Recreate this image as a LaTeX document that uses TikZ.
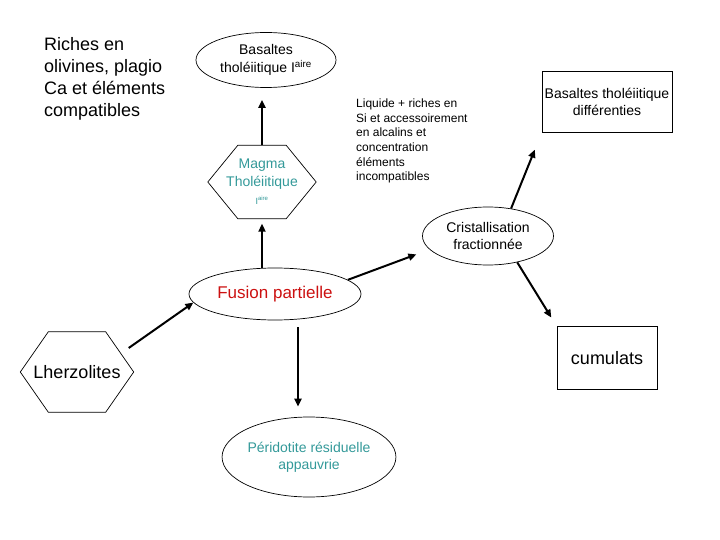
\documentclass[tikz,border=0pt]{standalone}
\usepackage{fontspec}
\setmainfont{Liberation Sans}
\usetikzlibrary{arrows.meta,shapes.geometric}
\definecolor{tealtxt}{RGB}{51,153,153}
\definecolor{redtxt}{RGB}{204,17,17}
% hexagone pointu a gauche et a droite autour d'un noeud
\newcommand{\hexagone}[2]{\draw[line width=0.7pt] (#1.west) -- ([xshift=#2]#1.north west) -- ([xshift=-#2]#1.north east) -- (#1.east) -- ([xshift=-#2]#1.south east) -- ([xshift=#2]#1.south west) -- cycle;}

\begin{document}
\begin{tikzpicture}[x=1pt,y=-1pt,
    ovale/.style={draw,ellipse,inner sep=0pt,line width=0.7pt,align=center},
    boite/.style={draw,rectangle,inner sep=0pt,line width=0.9pt,align=center},
    hexa/.style={rectangle,inner sep=0pt,align=center},
    fleche/.style={line width=2pt,-{Triangle[length=8pt,width=7pt]}}]
    \useasboundingbox (0,0) rectangle (720,540);
    % textes libres
    \node[anchor=west,align=left,inner sep=0pt,font=\fontsize{18}{22}\selectfont] (riches) at (44,79) {Riches en\\olivines, plagio\\Ca et éléments\\compatibles};
    \node[anchor=west,align=left,inner sep=0pt,font=\fontsize{12}{14.6}\selectfont] (liquide) at (356,141) {Liquide + riches en\\Si et accessoirement\\en alcalins et\\concentration\\éléments\\incompatibles};
    % formes
    \node[ovale,minimum width=140pt,minimum height=55pt,font=\fontsize{14}{18}\selectfont] (basI) at (266,60) {Basaltes\\tholéiitique I\textsuperscript{aire}};
    \node[hexa,minimum width=108pt,minimum height=73pt,text=tealtxt,font=\fontsize{14}{18}\selectfont] (magma) at (262,182) {Magma\\Tholéiitique\\{\fontsize{9}{9}\selectfont I\textsuperscript{aire}}};
    \hexagone{magma}{30pt}
    \node[boite,minimum width=130pt,minimum height=61pt,font=\fontsize{14}{17}\selectfont] (basD) at (607,102) {Basaltes tholéiitique\\différenties};
    \node[ovale,minimum width=131pt,minimum height=58pt,font=\fontsize{14}{17}\selectfont] (crist) at (488,236) {Cristallisation\\fractionnée};
    \node[ovale,minimum width=172pt,minimum height=52pt,text=redtxt,font=\fontsize{17}{20}\selectfont] (fusion) at (275,294) {Fusion partielle};
    \node[hexa,minimum width=113pt,minimum height=80pt,font=\fontsize{18}{20}\selectfont] (lherz) at (77,372) {Lherzolites};
    \hexagone{lherz}{28pt}
    \node[boite,minimum width=100pt,minimum height=63pt,font=\fontsize{18}{20}\selectfont] (cum) at (607,358) {cumulats};
    \node[ovale,minimum width=159pt,minimum height=80pt,text=tealtxt,font=\fontsize{14}{17}\selectfont] (perid) at (309,457) {Péridotite résiduelle\\appauvrie};
    % fleches
    \draw[fleche,shorten >=12pt] (magma.north) -- (magma.north |- basI.south);
    \draw[fleche,shorten >=5pt] (magma.south |- fusion.north) -- (magma.south);
    \draw[fleche] ([xshift=-5pt,yshift=24pt]lherz.east) -- (fusion.186);
    \draw[fleche,shorten >=14pt] (fusion.11) -- (crist.193);
    \draw[fleche,shorten >=18pt] (crist.50) -- (basD.south west);
    \draw[fleche,shorten >=10pt] (crist.-42) -- (cum.north west);
    \draw[fleche,shorten <=7pt,shorten >=10pt] ([xshift=23pt]fusion.south) -- ([xshift=23pt]fusion.south |- perid.north);
\end{tikzpicture}
\end{document}
